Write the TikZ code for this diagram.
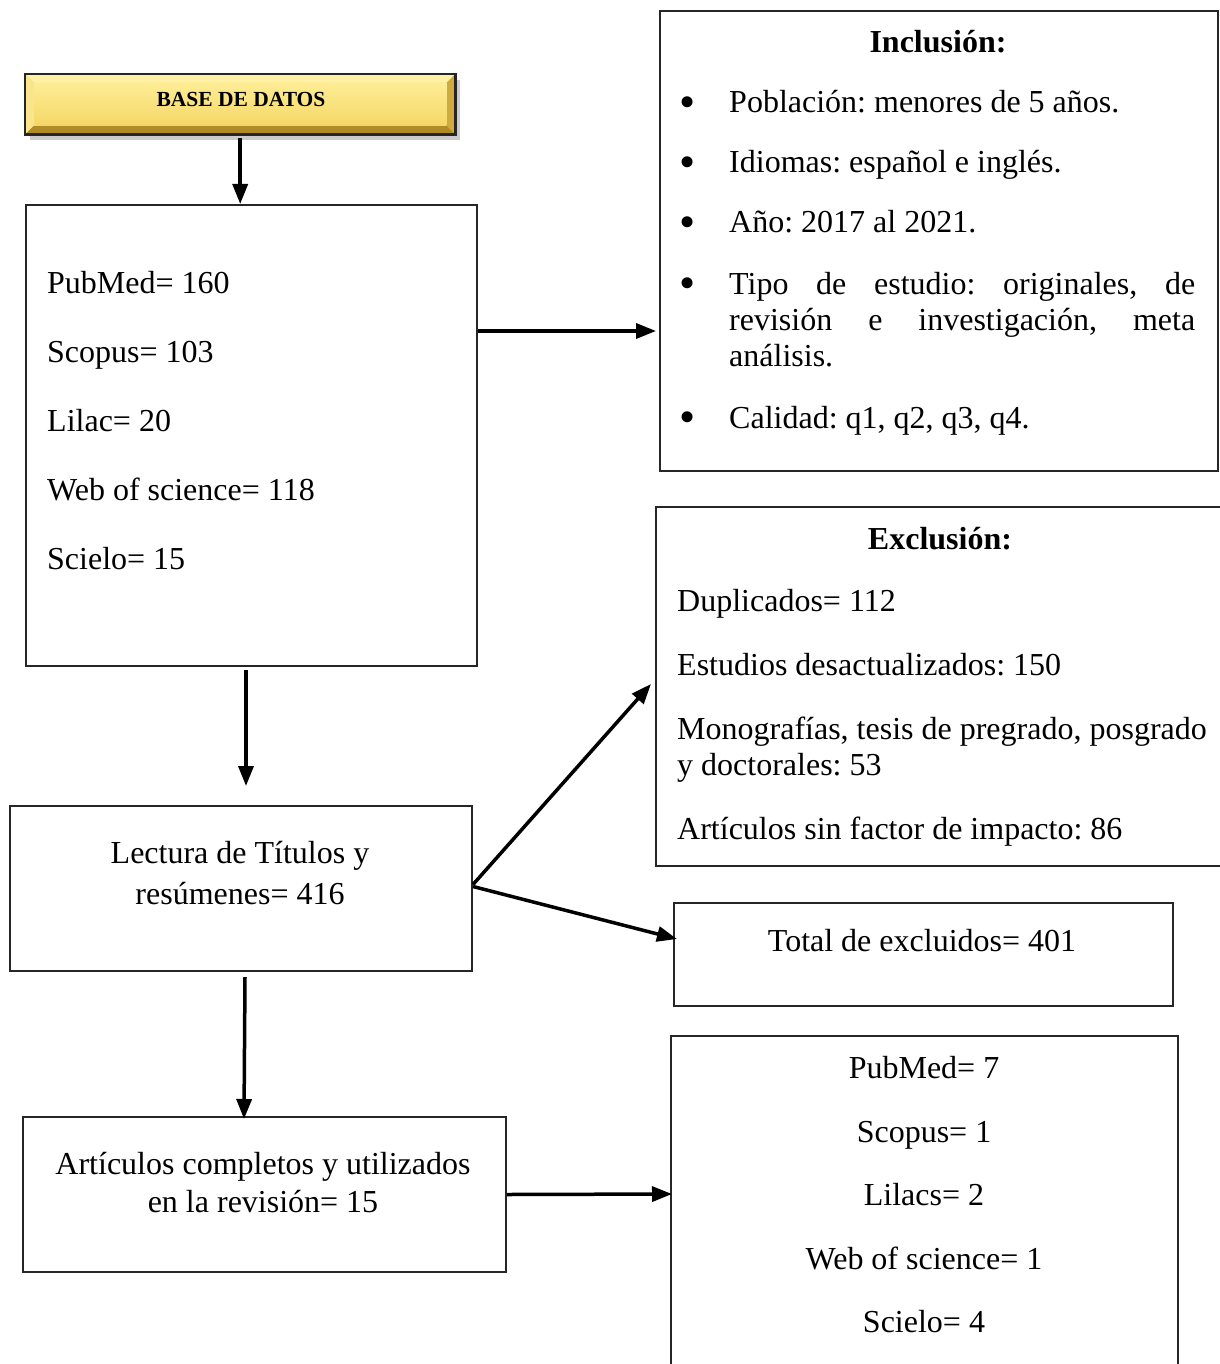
\documentclass[tikz,border=0pt]{standalone}
\usepackage{fontspec}
\setmainfont{Liberation Serif}
\usetikzlibrary{arrows.meta,shadows,calc}
\definecolor{goldA}{RGB}{255,242,165}
\definecolor{goldB}{RGB}{250,222,110}
\definecolor{goldC}{RGB}{214,178,70}
\definecolor{goldD}{RGB}{176,140,40}
\frenchspacing
\begin{document}
\begin{tikzpicture}[x=1pt,y=-1pt,
  box/.style={draw=black!85, line width=2pt, rectangle, anchor=north west, inner sep=0pt},
  txt/.style={anchor=base west, inner sep=0pt, font=\fontsize{32}{37}\selectfont},
  ctxt/.style={anchor=base, inner sep=0pt, font=\fontsize{32}{37}\selectfont},
  bul/.style={anchor=center, inner sep=0pt, font=\fontsize{46}{46}\selectfont},
  arr/.style={-{Triangle[length=20pt,width=15pt]}, line width=3.5pt, black}
]
\useasboundingbox[fill=white] (0,0) rectangle (1219,1364);

% ---------- gold title box ----------
\node[anchor=north west, minimum width=430pt, minimum height=60pt, inner sep=0pt,
      fill=goldC, drop shadow={opacity=0.4, shadow xshift=5pt, shadow yshift=-6pt}] (base) at (25,74) {};
\fill[goldA] (base.north west) -- (base.north east) -- ($(base.north east)+(-9,9)$) -- ($(base.north west)+(9,9)$) -- cycle;
\fill[goldD] (base.south west) -- (base.south east) -- ($(base.south east)+(-9,-9)$) -- ($(base.south west)+(9,-9)$) -- cycle;
\fill[goldB!80!white] (base.north west) -- ($(base.north west)+(9,9)$) -- ($(base.south west)+(9,-9)$) -- (base.south west) -- cycle;
\fill[goldC!80!goldD] (base.north east) -- ($(base.north east)+(-9,9)$) -- ($(base.south east)+(-9,-9)$) -- (base.south east) -- cycle;
\shade[top color=goldA!70!goldB, bottom color=goldB!85!goldC] ($(base.north west)+(9,9)$) rectangle ($(base.south east)+(-9,-9)$);
\draw[black!85, line width=2.5pt] (base.north west) rectangle (base.south east);
\node[anchor=base, inner sep=0pt, font=\fontsize{21.5}{25}\selectfont\bfseries] (basetxt) at (241,107) {BASE DE DATOS};

% ---------- databases box ----------
\node[box, minimum width=451pt, minimum height=461pt] (db) at (25,204) {};
\node[txt] (db1) at (47,293) {PubMed= 160};
\node[txt] (db2) at (47,362) {Scopus= 103};
\node[txt] (db3) at (47,431) {Lilac= 20};
\node[txt] (db4) at (47,500) {Web of science= 118};
\node[txt] (db5) at (47,569) {Scielo= 15};

% ---------- inclusion box ----------
\node[box, minimum width=558pt, minimum height=460pt] (inc) at (659,10) {};
\node[ctxt] (inct) at (938,53) {\bfseries Inclusión:};
\node[bul] (ib1) at (688,107) {\textbullet};
\node[bul] (ib2) at (688,167) {\textbullet};
\node[bul] (ib3) at (688,227) {\textbullet};
\node[bul] (ib4) at (688,288) {\textbullet};
\node[bul] (ib5) at (688,422) {\textbullet};
\node[txt] (i1) at (729,113) {Población: menores de 5 años.};
\node[txt] (i2) at (729,173) {Idiomas: español e inglés.};
\node[txt] (i3) at (729,233) {Año: 2017 al 2021.};
\node[txt] (i4a) at (729,294) {\makebox[466pt][s]{Tipo de estudio: originales, de}};
\node[txt] (i4b) at (729,330) {\makebox[466pt][s]{revisión e investigación, meta}};
\node[txt] (i4c) at (729,366) {análisis.};
\node[txt] (i5) at (729,428) {Calidad: q1, q2, q3, q4.};

% ---------- exclusion box ----------
\node[box, minimum width=570pt, minimum height=359pt] (exc) at (655,506) {};
\node[ctxt] (exct) at (940,549) {\bfseries Exclusión:};
\node[txt] (e1) at (677,611) {Duplicados= 112};
\node[txt] (e2) at (677,675) {Estudios desactualizados: 150};
\node[txt] (e3a) at (677,739) {Monografías, tesis de pregrado, posgrado};
\node[txt] (e3b) at (677,775) {y doctorales: 53};
\node[txt] (e4) at (677,839) {Artículos sin factor de impacto: 86};

% ---------- lectura box ----------
\node[box, minimum width=462pt, minimum height=165pt] (lec) at (9,805) {};
\node[ctxt] (lec1) at (240,863) {Lectura de Títulos y};
\node[ctxt] (lec2) at (240,904) {resúmenes= 416};

% ---------- total box ----------
\node[box, minimum width=499pt, minimum height=103pt] (tot) at (673,902) {};
\node[ctxt] (tot1) at (922,951) {Total de excluidos= 401};

% ---------- articles box ----------
\node[box, minimum width=483pt, minimum height=155pt] (art) at (22,1116) {};
\node[ctxt] (art1) at (263,1174) {Artículos completos y utilizados};
\node[ctxt] (art2) at (263,1212) {en la revisión= 15};

% ---------- result box (open at the bottom) ----------
\node[anchor=north west, minimum width=507pt, minimum height=345pt, inner sep=0pt] (res) at (671,1036) {};
\draw[black!85, line width=2pt] (res.south west) -- (res.north west) -- (res.north east) -- (res.south east);
\node[ctxt] (r1) at (924,1078) {PubMed= 7};
\node[ctxt] (r2) at (924,1142) {Scopus= 1};
\node[ctxt] (r3) at (924,1205) {Lilacs= 2};
\node[ctxt] (r4) at (924,1269) {Web of science= 1};
\node[ctxt] (r5) at (924,1332) {Scielo= 4};

% ---------- connectors ----------
\draw[arr] ($(base.south)+(0,4)$) -- (base.south |- db.north);
\draw[arr] ($(db.north east)+(0,127)$) -- ($(inc.north west)+(-3,321)$);
\draw[arr] ($(db.south)+(-5.5,3)$) -- ($(lec.north)+(5,-19)$);
\draw[arr] ($(lec.east)+(0,-4)$) -- ($(exc.north west)+(-4,178)$);
\draw[arr] ($(lec.east)+(0,-2)$) -- ($(tot.north west)+(4,37)$);
\draw[arr] ($(lec.south)+(4,5)$) -- ($(art.north west)+(222,3)$);
\draw[arr] (art.east) -- ($(res.north west)+(1,158)$);
\end{tikzpicture}
\end{document}
